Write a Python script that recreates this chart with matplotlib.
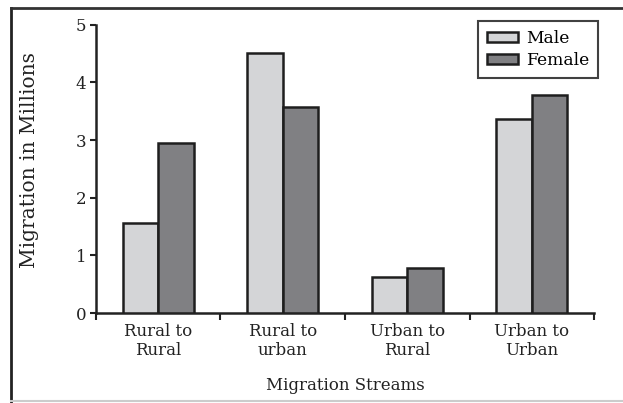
import matplotlib.pyplot as plt
import numpy as np
from matplotlib.lines import Line2D

# data (millions)
streams = ['Rural to\nRural', 'Rural to\nurban', 'Urban to\nRural', 'Urban to\nUrban']
male = [1.56, 4.51, 0.63, 3.37]
female = [2.95, 3.57, 0.78, 3.78]

plt.rcParams['font.family'] = 'DejaVu Serif'

fig = plt.figure(figsize=(6.23, 4.03), dpi=100)
ax = fig.add_axes([0.154, 0.2233, 0.7995, 0.715])

x = np.arange(len(streams))
w = 0.286
ax.bar(x - w/2, male, w, color='#d4d5d7', edgecolor='#1e1e1e', linewidth=1.8, label='Male', zorder=3)
ax.bar(x + w/2, female, w, color='#808083', edgecolor='#1e1e1e', linewidth=1.8, label='Female', zorder=3)

ax.set_xlim(-0.5, 3.5)
ax.set_ylim(0, 5)
ax.set_yticks(range(6))
ax.tick_params(axis='y', labelsize=12, length=4, width=1.5, pad=3, colors='#222222')

# group separators as major ticks, labels on minor ticks
ax.set_xticks(np.arange(-0.5, 4, 1))
ax.set_xticklabels([])
ax.set_xticks(x, minor=True)
ax.set_xticklabels(streams, minor=True, fontsize=12, linespacing=1.2, color='#222222')
ax.tick_params(axis='x', which='major', length=5, width=1.5, colors='#222222')
ax.tick_params(axis='x', which='minor', length=0, pad=7)

for s in ['top', 'right']:
    ax.spines[s].set_visible(False)
for s in ['left', 'bottom']:
    ax.spines[s].set_linewidth(1.8)
    ax.spines[s].set_color('#222222')

ax.set_ylabel('Migration in Millions', fontsize=14.5, color='#222222')
ax.yaxis.set_label_coords(-0.114, 0.53)
ax.set_xlabel('Migration Streams', fontsize=12, color='#222222')
ax.xaxis.set_label_coords(0.5, -0.222)

leg = ax.legend(loc='upper right', bbox_to_anchor=(1.008, 1.012), fontsize=12.3, frameon=True,
                fancybox=False, handlelength=1.8, handleheight=0.6, handletextpad=0.5,
                borderpad=0.5, labelspacing=0.3, borderaxespad=0)
leg.get_frame().set_edgecolor('#111111')
leg.get_frame().set_linewidth(1.5)

# outer frame of the figure
fig.add_artist(Line2D([11/623, 11/623], [0, 1 - 8/403], color='#222222', lw=2))
fig.add_artist(Line2D([11/623, 1], [1 - 8/403, 1 - 8/403], color='#333333', lw=2))
fig.add_artist(Line2D([11/623, 1], [2/403, 2/403], color='#cccccc', lw=1.5))

fig.savefig('out.png', dpi=100)
